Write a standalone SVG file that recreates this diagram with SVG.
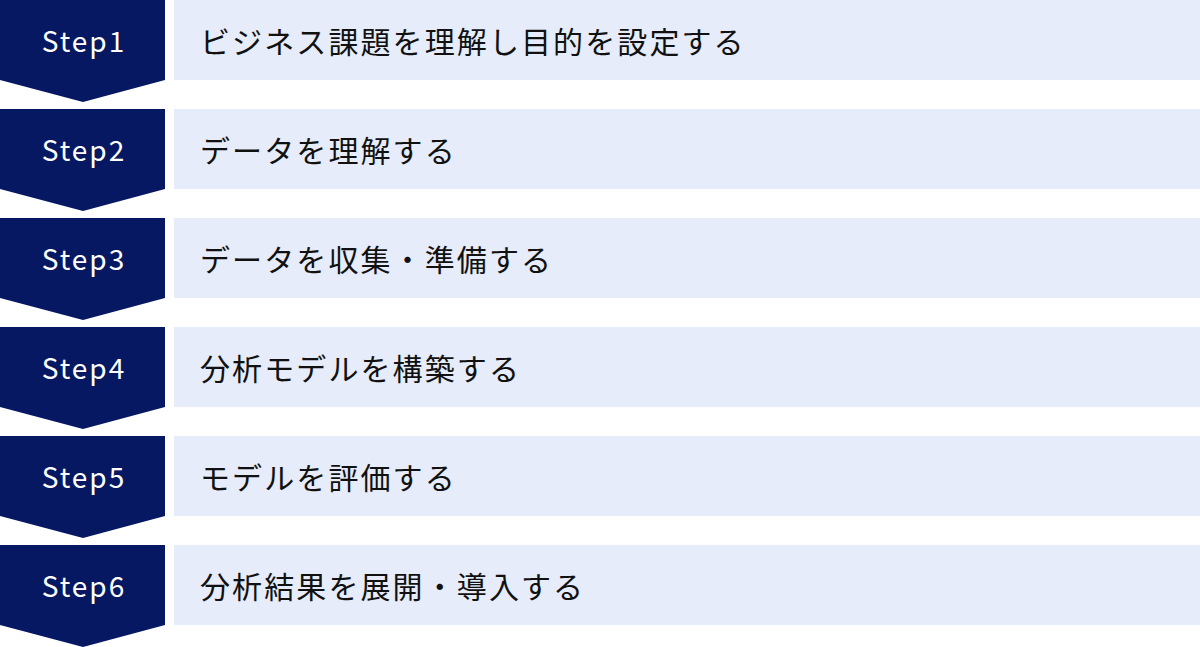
<svg xmlns="http://www.w3.org/2000/svg" width="1200" height="647" viewBox="0 0 1200 647">
<style>
.chev{fill:#061862}
.bar{fill:#E6ECF9}
.step{font-family:"Noto Sans CJK JP","Noto Sans",sans-serif;font-size:28px;fill:#ffffff;text-anchor:middle;letter-spacing:2px;dominant-baseline:central}
.lbl{font-family:"Noto Sans CJK JP","Noto Sans",sans-serif;font-size:30px;fill:#111111;letter-spacing:2.1px;dominant-baseline:central}
</style>
<defs>
<path id="chevron" d="M0 0 H165 V80 L83 102 L0 80 Z"/>
</defs>
<g id="connectors"></g>
<g id="step1" transform="translate(0,0)">
<use href="#chevron" class="chev"/>
<rect class="bar" x="174" y="0" width="1026" height="80"/>
<text class="step" x="84" y="40">Step1</text>
<text class="lbl" x="200" y="40">ビジネス課題を理解し目的を設定する</text>
</g>
<g id="step2" transform="translate(0,109)">
<use href="#chevron" class="chev"/>
<rect class="bar" x="174" y="0" width="1026" height="80"/>
<text class="step" x="84" y="40">Step2</text>
<text class="lbl" x="200" y="40">データを理解する</text>
</g>
<g id="step3" transform="translate(0,218)">
<use href="#chevron" class="chev"/>
<rect class="bar" x="174" y="0" width="1026" height="80"/>
<text class="step" x="84" y="40">Step3</text>
<text class="lbl" x="200" y="40">データを収集・準備する</text>
</g>
<g id="step4" transform="translate(0,327)">
<use href="#chevron" class="chev"/>
<rect class="bar" x="174" y="0" width="1026" height="80"/>
<text class="step" x="84" y="40">Step4</text>
<text class="lbl" x="200" y="40">分析モデルを構築する</text>
</g>
<g id="step5" transform="translate(0,436)">
<use href="#chevron" class="chev"/>
<rect class="bar" x="174" y="0" width="1026" height="80"/>
<text class="step" x="84" y="40">Step5</text>
<text class="lbl" x="200" y="40">モデルを評価する</text>
</g>
<g id="step6" transform="translate(0,545)">
<use href="#chevron" class="chev"/>
<rect class="bar" x="174" y="0" width="1026" height="80"/>
<text class="step" x="84" y="40">Step6</text>
<text class="lbl" x="200" y="40">分析結果を展開・導入する</text>
</g>
</svg>
